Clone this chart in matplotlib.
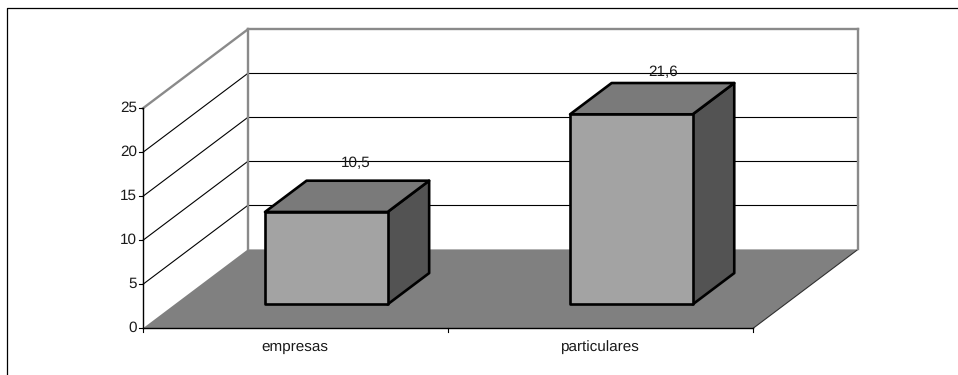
import matplotlib
matplotlib.use("Agg")
import matplotlib.pyplot as plt
from matplotlib.patches import Polygon

plt.rcParams['font.family'] = ['Liberation Sans', 'DejaVu Sans']
plt.rcParams['text.hinting'] = 'none'

categories = ["empresas", "particulares"]
values = [10.5, 21.6]
value_labels = ["10,5", "21,6"]
y_ticks = [0, 5, 10, 15, 20, 25]

W, H = 958, 375
fig = plt.figure(figsize=(W / 100, H / 100), dpi=100, facecolor="white")

# outer chart frame (left and top edges only are visible)
fig.add_artist(plt.Line2D([6.5 / W, 6.5 / W, 1], [0, 1 - 7.5 / H, 1 - 7.5 / H],
                          color="black", lw=0.9, transform=fig.transFigure))

ax = fig.add_axes([142.8 / W, (H - 328.4) / H, 610.2 / W, 220 / H])
ax.set_xlim(0, len(categories))
ax.set_ylim(0, 25)
ax.axis("off")

# one unit of depth as data-space offset
DX = 105 / 305.1
DY = 79 / 8.8
GREY = "#8a8a8a"
TEXT = "#1a1a1a"
FS = 11.0


def proj(x, y, d=0.0):
    return (x + d * DX, y + d * DY)


def poly(pts, **kw):
    kw.setdefault("clip_on", False)
    ax.add_patch(Polygon(pts, closed=True, **kw))


def line(pts, **kw):
    xs, ys = zip(*pts)
    ax.plot(xs, ys, clip_on=False, solid_capstyle="projecting", **kw)


n = len(categories)
# floor
poly([proj(0, 0), proj(n, 0), proj(n, 0, 1), proj(0, 0, 1)],
     facecolor="#808080", edgecolor="none", zorder=1)
line([proj(n, 0), proj(n, 0, 1)], color="#303030", lw=0.8, zorder=2)

# gridlines on both walls (separate segments so horizontals snap to the pixel grid)
for t in y_ticks[1:-1]:
    line([proj(0, t), proj(0, t, 1)], color="black", lw=0.8, zorder=2)
    line([proj(0, t, 1), proj(n, t, 1)], color="black", lw=0.8, zorder=2)

# wall borders
for a, b in [(proj(0, 0, 1), proj(0, 25, 1)),
             (proj(0, 25, 1), proj(n, 25, 1)),
             (proj(n, 25, 1), proj(n, 0, 1)),
             (proj(0, 25), proj(0, 25, 1))]:
    line([a, b], color=GREY, lw=1.7, zorder=2)

# axis lines
line([proj(0, 0), proj(0, 25)], color="black", lw=1.0, zorder=3)
line([proj(0, 0), proj(n, 0)], color="black", lw=1.0, zorder=3)

# ticks
tick_x = 4 / 305.1
tick_y = 4 / 8.8
for t in y_ticks:
    line([(0, t), (-tick_x, t)], color="black", lw=0.8, zorder=3)
    ax.text(-tick_x - 2 / 305.1, t, str(t), ha="right", va="center", fontsize=FS,
            color=TEXT, clip_on=False)
for i in range(n + 1):
    line([(i, 0), (i, -tick_y)], color="black", lw=0.8, zorder=3)
for i, c in enumerate(categories):
    ax.text(i + 0.5 - 1 / 305.1, -18.6 / 8.8, c, ha="center", va="center", fontsize=FS,
            color=TEXT, clip_on=False)

# 3D bars
bar_w = 122.6 / 305.1
bar_shift = -1 / 305.1
d0, d1 = 0.304, 0.70
label_dx = (28, 31)    # px right of the bar's front-top centre
label_dy = (48.5, 42.5)    # px above the bar's front-top edge
for i, v in enumerate(values):
    x0 = i + 0.5 - bar_w / 2 + bar_shift
    x1 = x0 + bar_w
    style = dict(edgecolor="black", lw=1.9, joinstyle="round", zorder=4)
    poly([proj(x1, 0, d0), proj(x1, 0, d1), proj(x1, v, d1), proj(x1, v, d0)],
         facecolor="#535353", **style)
    poly([proj(x0, v, d0), proj(x1, v, d0), proj(x1, v, d1), proj(x0, v, d1)],
         facecolor="#7a7a7a", **style)
    poly([proj(x0, 0, d0), proj(x1, 0, d0), proj(x1, v, d0), proj(x0, v, d0)],
         facecolor="#a3a3a3", **style)
    fx, fy = proj(i + 0.5, v, d0)
    ax.text(fx + label_dx[i] / 305.1, fy + label_dy[i] / 8.8, value_labels[i],
            ha="center", va="center", fontsize=FS, color=TEXT, clip_on=False, zorder=5)

fig.savefig("out.png", dpi=100)
